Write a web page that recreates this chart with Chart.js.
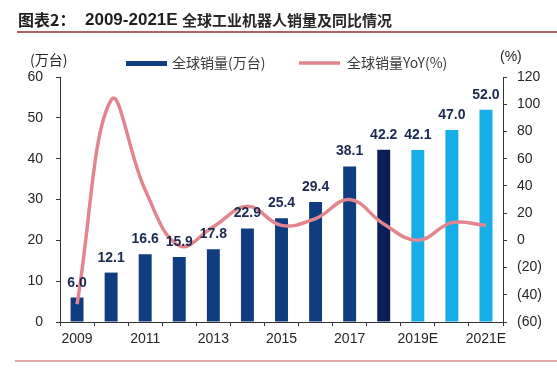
<!DOCTYPE html>
<html>
<head>
<meta charset="utf-8">
<script src="https://cdn.jsdelivr.net/npm/chart.js@4"></script>
<style>
    body { margin: 0; background: #fff; }
    #wrap { width: 557px; height: 368px; }
</style>
</head>
<body>
<div id="wrap"><canvas id="robot-chart" width="557" height="368"></canvas></div>
<script>
const years = ['2009', '2010', '2011', '2012', '2013', '2014', '2015', '2016', '2017', '2018', '2019E', '2020E', '2021E'];
const sales = [6.0, 12.1, 16.6, 15.9, 17.8, 22.9, 25.4, 29.4, 38.1, 42.2, 42.1, 47.0, 52.0];
const yoy = [-47, 103, 37, -4, 10, 25, 11, 16, 30, 12, 0, 13, 11];
const barColors = ['#0f3d80', '#0f3d80', '#0f3d80', '#0f3d80', '#0f3d80', '#0f3d80', '#0f3d80', '#0f3d80', '#0f3d80', '#0a1f5a', '#17aee8', '#17aee8', '#17aee8'];

const cjk = '"Noto Sans CJK SC", sans-serif';
const latin = '"Liberation Sans", Arial, sans-serif';
const textColor = '#262626';

// title, rules, legend and unit labels
const decorPlugin = {
    id: 'decor',
    afterDraw(chart) {
        const ctx = chart.ctx;
        ctx.save();
        ctx.textBaseline = 'middle';
        ctx.fillStyle = '#1e1e1e';
        ctx.font = 'bold 16px ' + cjk;
        ctx.fillText('图表2：', 18, 20);
        ctx.font = 'bold 17px ' + latin;
        ctx.fillText('2009-2021E', 85, 20);
        ctx.fillStyle = '#262626';
        ctx.font = 'bold 15px ' + cjk;
        ctx.fillText('全球工业机器人销量及同比情况', 182, 20);

        ctx.strokeStyle = '#9b2c2c';
        ctx.lineWidth = 1.5;
        ctx.beginPath();
        ctx.moveTo(17, 32);
        ctx.lineTo(557, 32);
        ctx.stroke();

        ctx.strokeStyle = '#d98b8e';
        ctx.lineWidth = 1.5;
        ctx.beginPath();
        ctx.moveTo(15, 361);
        ctx.lineTo(557, 361);
        ctx.stroke();

        // legend
        ctx.fillStyle = '#0f3d80';
        ctx.fillRect(126, 61, 41, 5);
        ctx.strokeStyle = '#e3858e';
        ctx.lineWidth = 3.5;
        ctx.beginPath();
        ctx.moveTo(299, 63);
        ctx.lineTo(340, 63);
        ctx.stroke();

        ctx.fillStyle = '#3a3a3a';
        ctx.font = '14px ' + cjk;
        ctx.fillText('全球销量(万台)', 172, 63);
        ctx.fillText('全球销量YoY(%)', 347, 63);

        ctx.fillStyle = textColor;
        ctx.fillText('(万台)', 30, 60);
        ctx.font = '14px ' + latin;
        ctx.fillText('(%)', 500, 57);
        ctx.restore();
    }
};

// value labels above bars
const barLabelPlugin = {
    id: 'barLabels',
    afterDatasetsDraw(chart) {
        const ctx = chart.ctx;
        const meta = chart.getDatasetMeta(0);
        ctx.save();
        ctx.font = 'bold 14px ' + latin;
        ctx.fillStyle = '#1b2a4e';
        ctx.textAlign = 'center';
        ctx.textBaseline = 'alphabetic';
        meta.data.forEach((bar, i) => {
            ctx.fillText(sales[i].toFixed(1), bar.x, bar.y - 11);
        });
        ctx.restore();
    }
};

const axisLine = { display: true, color: '#333', width: 1 };
const tickGrid = { display: true, drawOnChartArea: false, drawTicks: true, tickLength: 4, color: '#333' };

new Chart(document.getElementById('robot-chart').getContext('2d'), {
    data: {
        labels: years,
        datasets: [
            {
                type: 'bar',
                label: '全球销量(万台)',
                data: sales,
                backgroundColor: barColors,
                yAxisID: 'y',
                barPercentage: 0.38,
                categoryPercentage: 1,
                order: 1,
            },
            {
                type: 'line',
                label: '全球销量YoY(%)',
                data: yoy,
                borderColor: '#e3858e',
                borderWidth: 3.5,
                pointRadius: 0,
                tension: 0.4,
                fill: false,
                yAxisID: 'y1',
                order: 0,
            },
        ],
    },
    options: {
        responsive: false,
        animation: false,
        layout: { padding: { top: 77, left: 0, right: 0, bottom: 0 } },
        plugins: {
            legend: { display: false },
            tooltip: { enabled: false },
        },
        scales: {
            x: {
                offset: true,
                border: axisLine,
                grid: Object.assign({}, tickGrid, { offset: true }),
                ticks: {
                    autoSkip: false,
                    maxRotation: 0,
                    padding: 5,
                    color: textColor,
                    font: { size: 14, family: latin },
                    callback: (val, i) => (i % 2 === 0 ? years[i] : ''),
                },
                afterFit: scale => { scale.height = 46; },
            },
            y: {
                position: 'left',
                min: 0,
                max: 60,
                border: axisLine,
                grid: tickGrid,
                ticks: {
                    stepSize: 10,
                    padding: 13,
                    color: textColor,
                    font: { size: 14, family: latin },
                },
                afterFit: scale => { scale.width = 60; },
            },
            y1: {
                position: 'right',
                min: -60,
                max: 120,
                border: axisLine,
                grid: tickGrid,
                ticks: {
                    stepSize: 20,
                    padding: 10,
                    color: textColor,
                    font: { size: 14, family: latin },
                    callback: v => (v < 0 ? '(' + Math.abs(v) + ')' : v),
                },
                afterFit: scale => { scale.width = 54; },
            },
        },
    },
    plugins: [decorPlugin, barLabelPlugin],
});
</script>
</body>
</html>
